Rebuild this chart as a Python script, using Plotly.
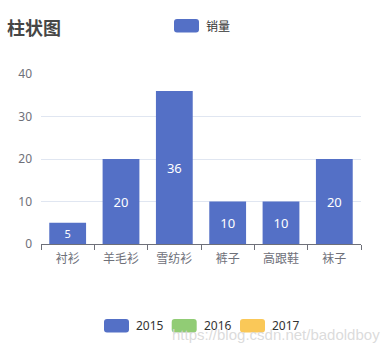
import plotly.graph_objects as go

categories = ["衬衫", "羊毛衫", "雪纺衫", "裤子", "高跟鞋", "袜子"]
sales = [5, 20, 36, 10, 10, 20]
series_name = "销量"
bottom_legend_names = ["2015", "2016", "2017"]
bottom_legend_colors = ["#5470c6", "#91cc75", "#fac858"]
y_ticks = [0, 10, 20, 30, 40]

W, H = 391, 354
L, R, T, B = 41, 361, 74, 244  # plot area in pixels


def px(x):
    return (x - L) / (R - L)


def py(y):
    return (B - y) / (B - T)


def rounded_rect(x0, y0, x1, y1, r=3):
    X0, X1 = px(x0), px(x1)
    Y0, Y1 = py(y0), py(y1)  # Y0 top (larger), Y1 bottom
    rx = r / (R - L)
    ry = r / (B - T)
    return (f"M {X0+rx},{Y0} L {X1-rx},{Y0} Q {X1},{Y0} {X1},{Y0-ry} "
            f"L {X1},{Y1+ry} Q {X1},{Y1} {X1-rx},{Y1} L {X0+rx},{Y1} "
            f"Q {X0},{Y1} {X0},{Y1+ry} L {X0},{Y0-ry} Q {X0},{Y0} {X0+rx},{Y0} Z")


fig = go.Figure()
fig.add_trace(go.Bar(
    x=categories, y=sales, name=series_name,
    marker=dict(color="#5470c6", line=dict(width=0)),
    text=sales, texttemplate="%{y}", textposition="inside",
    insidetextanchor="middle", textangle=0,
    textfont=dict(color="white", size=13, family="Noto Sans, Arial"),
    showlegend=False, hoverinfo="x+y",
))

shapes = []
annotations = []

# Title
annotations.append(dict(text="<b>柱状图</b>", x=px(5), y=py(27), xref="paper", yref="paper",
                        xanchor="left", yanchor="middle", showarrow=False,
                        font=dict(size=18, color="#464646", family="Noto Sans CJK SC")))

# Top legend
shapes.append(dict(type="path", path=rounded_rect(174, 19, 199, 32.5), xref="paper", yref="paper",
                   fillcolor="#5470c6", line=dict(width=0)))
annotations.append(dict(text=series_name, x=px(204), y=py(25.5), xref="paper", yref="paper",
                        xanchor="left", yanchor="middle", showarrow=False,
                        font=dict(size=12, color="#333333", family="Noto Sans CJK SC")))

# Bottom legend
sw_x = [104, 171.7, 240]
for name, col, x0 in zip(bottom_legend_names, bottom_legend_colors, sw_x):
    shapes.append(dict(type="path", path=rounded_rect(x0, 319, x0 + 25, 332.5), xref="paper", yref="paper",
                       fillcolor=col, line=dict(width=0)))
    annotations.append(dict(text=name, x=px(x0 + 30), y=py(325.5), xref="paper", yref="paper",
                            xanchor="left", yanchor="middle", showarrow=False,
                            font=dict(size=12, color="#333333", family="Noto Sans, Arial")))

# Watermark
annotations.append(dict(text="https://blog.csdn.net/badoldboy", x=px(382), y=py(334), xref="paper", yref="paper",
                        xanchor="right", yanchor="middle", showarrow=False,
                        font=dict(size=15, color="rgba(215,215,215,0.9)", family="Liberation Sans, Arial")))

fig.update_layout(
    width=W, height=H,
    margin=dict(l=L, r=W - R, t=T, b=H - B, pad=0),
    paper_bgcolor="white", plot_bgcolor="white",
    bargap=0.31,
    showlegend=False,
    shapes=shapes, annotations=annotations,
    font=dict(family="Noto Sans CJK SC", size=12, color="#6e7079"),
)
fig.update_xaxes(
    tickson="boundaries", ticks="outside", ticklen=5, tickcolor="#6e7079", tickwidth=1,
    showline=True, linecolor="#6e7079", linewidth=1, showgrid=False,
    ticklabelstandoff=4,
    tickfont=dict(size=12, color="#6e7079", family="Noto Sans CJK SC"),
    fixedrange=True,
)
fig.update_yaxes(
    range=[0, 40], tickvals=y_ticks, showgrid=True, gridcolor="#e0e6f1", gridwidth=1,
    showline=False, zeroline=False, ticks="", ticklabelstandoff=8,
    tickfont=dict(size=12, color="#6e7079", family="Noto Sans, Arial"),
    fixedrange=True,
)

fig.write_html("out.html")
